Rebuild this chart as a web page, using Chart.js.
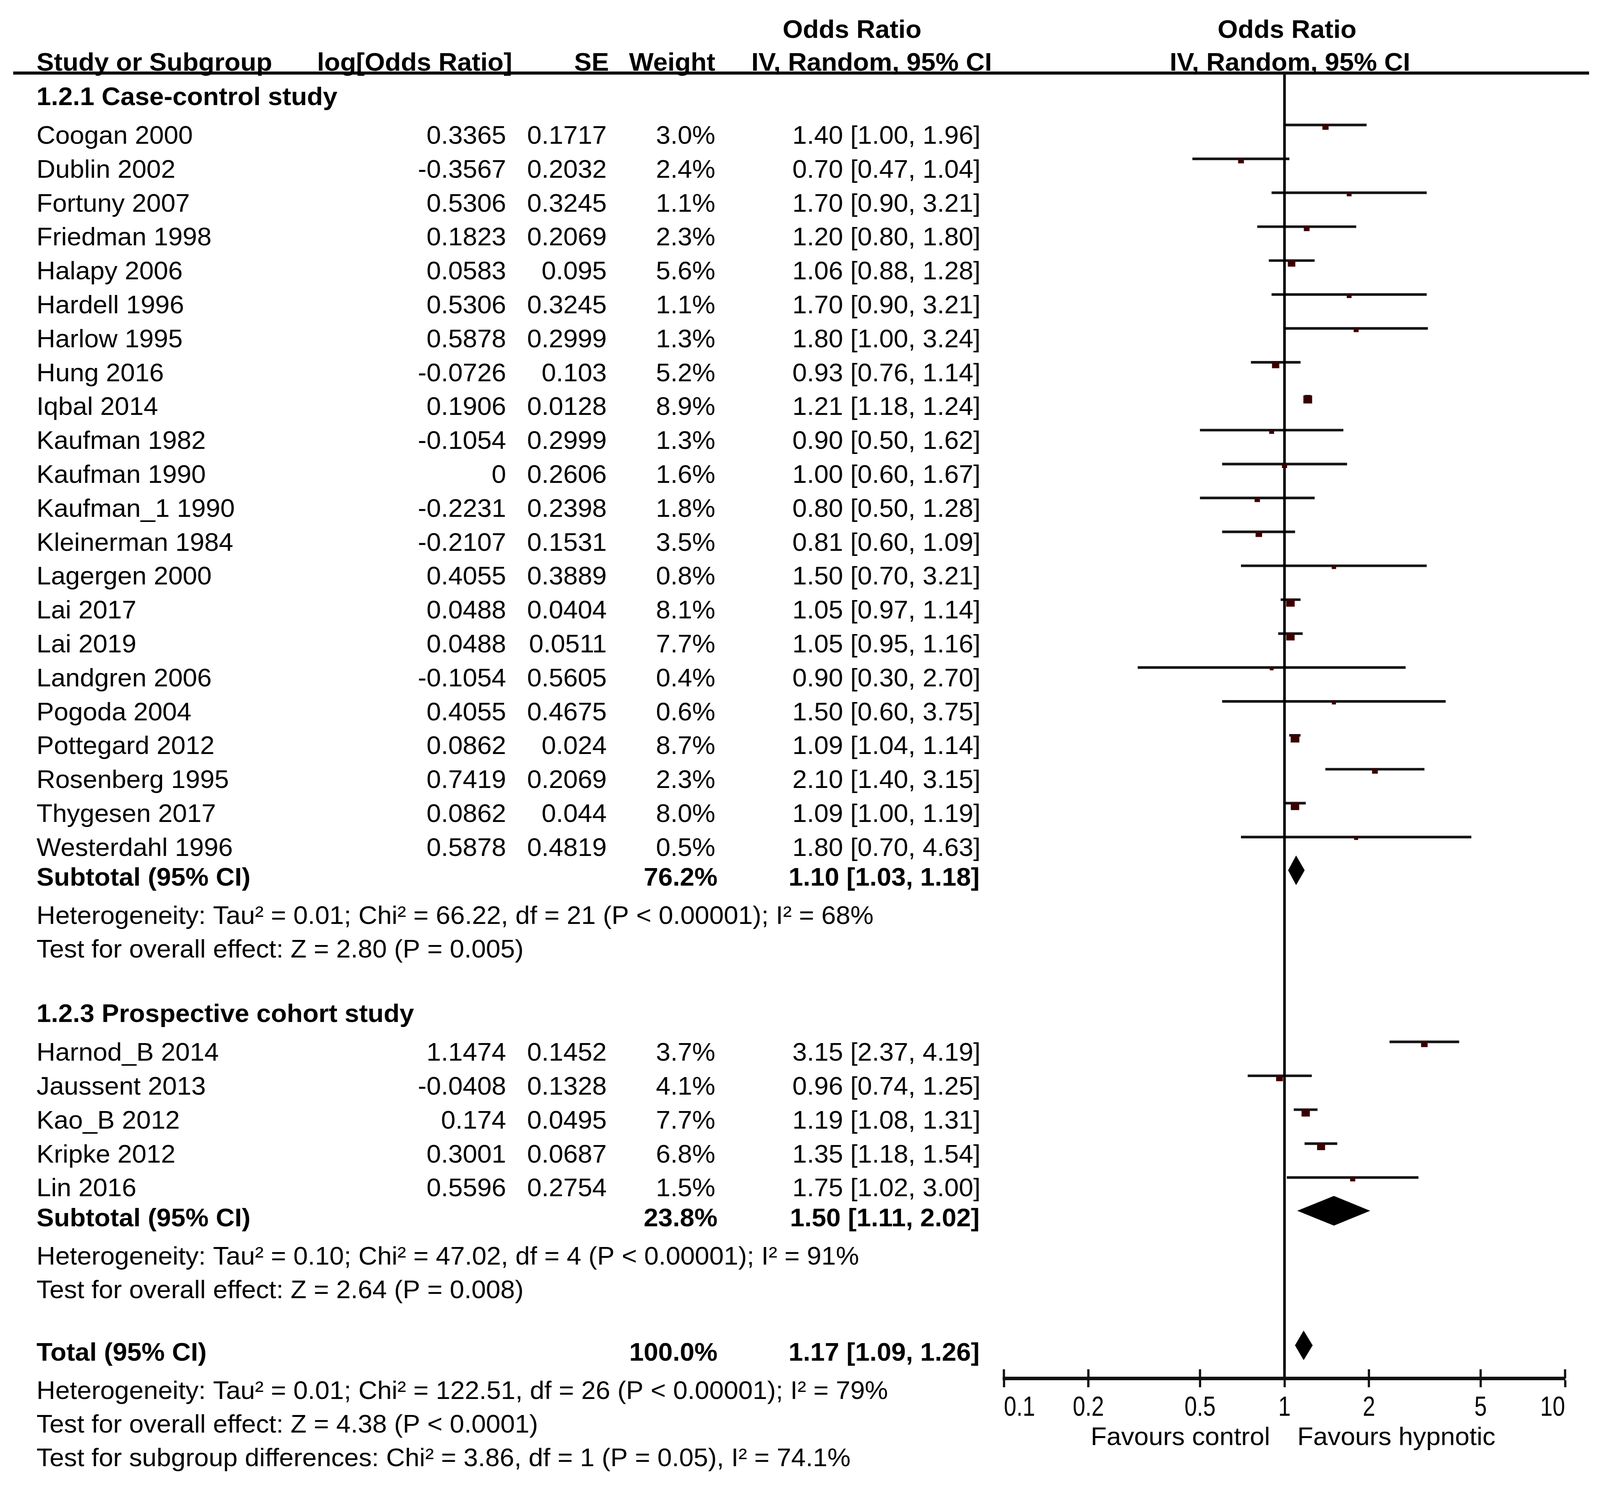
<!DOCTYPE html>
<html>
<head>
<meta charset="utf-8">
<title>Forest plot - hypnotic use</title>
<script src="https://cdn.jsdelivr.net/npm/chart.js@4.4.1/dist/chart.umd.min.js"></script>
<style>
  html, body { margin: 0; padding: 0; background: #fff; overflow: hidden; }
</style>
</head>
<body>
<canvas id="forest" width="4995" height="3814" style="width:100vw;height:100vh;display:block"></canvas>
<script>
// ── Data ───────────────────────────────────────────────────────────────────

const AXIS_TICKS = [0.1, 0.2, 0.5, 1, 2, 5, 10];

const groupTitles = ['1.2.1 Case-control study', '1.2.3 Prospective cohort study'];
const groupSizes = [22, 5];

const studyNames = [
  'Coogan 2000', 'Dublin 2002', 'Fortuny 2007', 'Friedman 1998', 'Halapy 2006',
  'Hardell 1996', 'Harlow 1995', 'Hung 2016', 'Iqbal 2014', 'Kaufman 1982',
  'Kaufman 1990', 'Kaufman_1 1990', 'Kleinerman 1984', 'Lagergen 2000', 'Lai 2017',
  'Lai 2019', 'Landgren 2006', 'Pogoda 2004', 'Pottegard 2012', 'Rosenberg 1995',
  'Thygesen 2017', 'Westerdahl 1996',
  'Harnod_B 2014', 'Jaussent 2013', 'Kao_B 2012', 'Kripke 2012', 'Lin 2016'
];
const logOddsRatio = [
  0.3365, -0.3567, 0.5306, 0.1823, 0.0583, 0.5306, 0.5878, -0.0726, 0.1906, -0.1054,
  0, -0.2231, -0.2107, 0.4055, 0.0488, 0.0488, -0.1054, 0.4055, 0.0862, 0.7419,
  0.0862, 0.5878,
  1.1474, -0.0408, 0.174, 0.3001, 0.5596
];
const stdError = [
  0.1717, 0.2032, 0.3245, 0.2069, 0.095, 0.3245, 0.2999, 0.103, 0.0128, 0.2999,
  0.2606, 0.2398, 0.1531, 0.3889, 0.0404, 0.0511, 0.5605, 0.4675, 0.024, 0.2069,
  0.044, 0.4819,
  0.1452, 0.1328, 0.0495, 0.0687, 0.2754
];
const weights = [
  3.0, 2.4, 1.1, 2.3, 5.6, 1.1, 1.3, 5.2, 8.9, 1.3,
  1.6, 1.8, 3.5, 0.8, 8.1, 7.7, 0.4, 0.6, 8.7, 2.3,
  8.0, 0.5,
  3.7, 4.1, 7.7, 6.8, 1.5
];
const oddsRatio = [
  1.40, 0.70, 1.70, 1.20, 1.06, 1.70, 1.80, 0.93, 1.21, 0.90,
  1.00, 0.80, 0.81, 1.50, 1.05, 1.05, 0.90, 1.50, 1.09, 2.10,
  1.09, 1.80,
  3.15, 0.96, 1.19, 1.35, 1.75
];
const ciLower = [
  1.00, 0.47, 0.90, 0.80, 0.88, 0.90, 1.00, 0.76, 1.18, 0.50,
  0.60, 0.50, 0.60, 0.70, 0.97, 0.95, 0.30, 0.60, 1.04, 1.40,
  1.00, 0.70,
  2.37, 0.74, 1.08, 1.18, 1.02
];
const ciUpper = [
  1.96, 1.04, 3.21, 1.80, 1.28, 3.21, 3.24, 1.14, 1.24, 1.62,
  1.67, 1.28, 1.09, 3.21, 1.14, 1.16, 2.70, 3.75, 1.14, 3.15,
  1.19, 4.63,
  4.19, 1.25, 1.31, 1.54, 3.00
];

const subtotalWeight = [76.2, 23.8];
const subtotalOR = [1.10, 1.50];
const subtotalLower = [1.03, 1.11];
const subtotalUpper = [1.18, 2.02];
const subtotalHet = [
  'Heterogeneity: Tau\u00b2 = 0.01; Chi\u00b2 = 66.22, df = 21 (P < 0.00001); I\u00b2 = 68%',
  'Heterogeneity: Tau\u00b2 = 0.10; Chi\u00b2 = 47.02, df = 4 (P < 0.00001); I\u00b2 = 91%'
];
const subtotalEffect = [
  'Test for overall effect: Z = 2.80 (P = 0.005)',
  'Test for overall effect: Z = 2.64 (P = 0.008)'
];

const totalWeight = 100.0;
const totalOR = 1.17;
const totalLower = 1.09;
const totalUpper = 1.26;
const totalNotes = [
  'Heterogeneity: Tau\u00b2 = 0.01; Chi\u00b2 = 122.51, df = 26 (P < 0.00001); I\u00b2 = 79%',
  'Test for overall effect: Z = 4.38 (P < 0.0001)',
  'Test for subgroup differences: Chi\u00b2 = 3.86, df = 1 (P = 0.05), I\u00b2 = 74.1%'
];

// ── Layout / style ─────────────────────────────────────────────────────────

const FONT = '"Liberation Sans", Arial, sans-serif';
const FONT_SIZE = 65;
const STRETCH = 1.25;          // reference text is drawn a bit wide
const BASE_OFF = 23;           // cap centre -> baseline
const MARK_SHIFT = 0.29;       // plot marks sit a little above the text row
const DIAMOND_SHIFT = 0.19;
const COL = { name: 114, logOR: 1580, se: 1894, weight: 2233, ci: 3061, weightB: 2240, ciB: 3058 };

// vertical gaps between rows, in row units
const GAP = { firstHeading: 0.68, heading: 1.9, firstStudy: 1.14, study: 1, subtotal: 0.88,
              het: 1.13, test: 0.99, total: 1.85 };

const rows = [];
let pos = 0;
let k = 0;
function push(kind, gap, extra) {
  pos += gap;
  rows.push(Object.assign({ kind, pos }, extra || {}));
}
groupTitles.forEach((title, g) => {
  push('heading', g === 0 ? GAP.firstHeading : GAP.heading, { text: title });
  for (let i = 0; i < groupSizes[g]; i++, k++) {
    push('study', i === 0 ? GAP.firstStudy : GAP.study, { idx: k });
  }
  push('subtotal', GAP.subtotal, { g });
  push('note', GAP.het, { text: subtotalHet[g] });
  push('note', GAP.test, { text: subtotalEffect[g] });
});
push('total', GAP.total);
totalNotes.forEach((t, i) => push('note', i === 0 ? GAP.het : GAP.test, { text: t }));

const studyRows = rows.filter(r => r.kind === 'study');

// ── Drawing helpers ────────────────────────────────────────────────────────

function txt(ctx, s, x, y, align, bold) {
  ctx.save();
  ctx.font = (bold ? 'bold ' : '') + FONT_SIZE + 'px ' + FONT;
  ctx.fillStyle = '#000';
  ctx.textAlign = align;
  ctx.textBaseline = 'alphabetic';
  ctx.translate(x, y + BASE_OFF);
  ctx.scale(STRETCH, 1);
  ctx.fillText(s, 0, 0);
  ctx.restore();
}

function hline(ctx, x1, x2, y, w) {
  ctx.beginPath();
  ctx.moveTo(x1, y);
  ctx.lineTo(x2, y);
  ctx.lineWidth = w;
  ctx.strokeStyle = '#111';
  ctx.stroke();
}

function diamond(ctx, xs, ys, p, lo, est, hi) {
  const cy = ys.getPixelForValue(p - DIAMOND_SHIFT);
  ctx.beginPath();
  ctx.moveTo(xs.getPixelForValue(lo), cy);
  ctx.lineTo(xs.getPixelForValue(est), cy - 38);
  ctx.lineTo(xs.getPixelForValue(hi), cy);
  ctx.lineTo(xs.getPixelForValue(est), cy + 38);
  ctx.closePath();
  ctx.fillStyle = '#000';
  ctx.fill();
}

const forestPlugin = {
  id: 'forest',
  afterDatasetsDraw(chart) {
    const { ctx, chartArea } = chart;
    const xs = chart.scales.x, ys = chart.scales.y;

    // line of no effect
    const x1 = xs.getPixelForValue(1);
    ctx.save();
    ctx.beginPath();
    ctx.moveTo(x1, chartArea.top);
    ctx.lineTo(x1, chartArea.bottom);
    ctx.lineWidth = 8;
    ctx.strokeStyle = '#000';
    ctx.stroke();

    // upper half of the axis ticks
    AXIS_TICKS.forEach(v => {
      const x = xs.getPixelForValue(v);
      ctx.beginPath();
      ctx.moveTo(x, chartArea.bottom - 23);
      ctx.lineTo(x, chartArea.bottom);
      ctx.lineWidth = 7;
      ctx.strokeStyle = '#111';
      ctx.stroke();
    });

    // study squares
    studyRows.forEach(r => {
      const w = 8 + 6.5 * Math.sqrt(weights[r.idx]);
      const h = 0.75 * w;
      const x = xs.getPixelForValue(oddsRatio[r.idx]);
      const top = ys.getPixelForValue(r.pos - MARK_SHIFT) - 2;
      ctx.fillStyle = '#3a0000';
      ctx.fillRect(x - w / 2, top, w, h);
    });

    // pooled diamonds
    rows.forEach(r => {
      if (r.kind === 'subtotal') diamond(ctx, xs, ys, r.pos, subtotalLower[r.g], subtotalOR[r.g], subtotalUpper[r.g]);
      if (r.kind === 'total') diamond(ctx, xs, ys, r.pos, totalLower, totalOR, totalUpper);
    });
    ctx.restore();
  },
  afterDraw(chart) {
    const { ctx, chartArea } = chart;
    const ys = chart.scales.y;
    const top = chartArea.top;

    hline(ctx, 41, 4961, top, 8);

    // column headers
    txt(ctx, 'Odds Ratio', 2660, top - 113, 'center', true);
    txt(ctx, 'Odds Ratio', 4018, top - 113, 'center', true);
    txt(ctx, 'Study or Subgroup', COL.name, top - 29, 'left', true);
    txt(ctx, 'log[Odds Ratio]', 1599, top - 29, 'right', true);
    txt(ctx, 'SE', 1901, top - 29, 'right', true);
    txt(ctx, 'Weight', 2233, top - 29, 'right', true);
    txt(ctx, 'IV, Random, 95% CI', 2721, top - 29, 'center', true);
    txt(ctx, 'IV, Random, 95% CI', 4027, top - 29, 'center', true);

    rows.forEach(r => {
      const y = ys.getPixelForValue(r.pos);
      if (r.kind === 'heading') {
        txt(ctx, r.text, COL.name, y, 'left', true);
      } else if (r.kind === 'study') {
        const i = r.idx;
        txt(ctx, studyNames[i], COL.name, y, 'left');
        txt(ctx, String(logOddsRatio[i]), COL.logOR, y, 'right');
        txt(ctx, String(stdError[i]), COL.se, y, 'right');
        txt(ctx, weights[i].toFixed(1) + '%', COL.weight, y, 'right');
        txt(ctx, oddsRatio[i].toFixed(2) + ' [' + ciLower[i].toFixed(2) + ', ' + ciUpper[i].toFixed(2) + ']', COL.ci, y, 'right');
      } else if (r.kind === 'subtotal') {
        const g = r.g;
        txt(ctx, 'Subtotal (95% CI)', COL.name, y, 'left', true);
        txt(ctx, subtotalWeight[g].toFixed(1) + '%', COL.weightB, y, 'right', true);
        txt(ctx, subtotalOR[g].toFixed(2) + ' [' + subtotalLower[g].toFixed(2) + ', ' + subtotalUpper[g].toFixed(2) + ']', COL.ciB, y, 'right', true);
      } else if (r.kind === 'total') {
        txt(ctx, 'Total (95% CI)', COL.name, y, 'left', true);
        txt(ctx, totalWeight.toFixed(1) + '%', COL.weightB, y, 'right', true);
        txt(ctx, totalOR.toFixed(2) + ' [' + totalLower.toFixed(2) + ', ' + totalUpper.toFixed(2) + ']', COL.ciB, y, 'right', true);
      } else {
        txt(ctx, r.text, COL.name, y, 'left');
      }
    });

    // axis captions
    const x1 = chart.scales.x.getPixelForValue(1);
    txt(ctx, 'Favours control', x1 - 45, chartArea.bottom + 148, 'right');
    txt(ctx, 'Favours hypnotic', x1 + 40, chartArea.bottom + 148, 'left');
  }
};

// ── Chart ──────────────────────────────────────────────────────────────────

new Chart(document.getElementById('forest'), {
  type: 'bar',
  data: {
    datasets: [{
      label: '95% CI',
      data: studyRows.map(r => ({ y: r.pos - MARK_SHIFT, x: [ciLower[r.idx], ciUpper[r.idx]] })),
      backgroundColor: '#161616',
      borderWidth: 0,
      barThickness: 6,
      grouped: false,
    }]
  },
  options: {
    indexAxis: 'y',
    responsive: false,
    animation: false,
    devicePixelRatio: 1,
    events: [],
    layout: { padding: { left: 3134, right: 109, top: 187, bottom: 156 } },
    plugins: { legend: { display: false }, tooltip: { enabled: false } },
    scales: {
      y: { type: 'linear', reverse: true, min: 0, max: 38.49, offset: false, display: false },
      x: {
        type: 'logarithmic',
        min: 0.1, max: 10,
        position: 'bottom',
        afterBuildTicks: s => { s.ticks = AXIS_TICKS.map(v => ({ value: v })); },
        afterFit: s => { s.height = 130; },
        border: { display: true, color: '#111', width: 9 },
        grid: { display: true, drawOnChartArea: false, drawTicks: true, tickLength: 23, tickWidth: 7, tickColor: '#111' },
        ticks: {
          align: 'inner',
          autoSkip: false,
          maxRotation: 0,
          padding: 12,
          color: '#000',
          font: { family: FONT, size: 70 },
          callback: v => String(v)
        }
      }
    }
  },
  plugins: [forestPlugin]
});
</script>
</body>
</html>
